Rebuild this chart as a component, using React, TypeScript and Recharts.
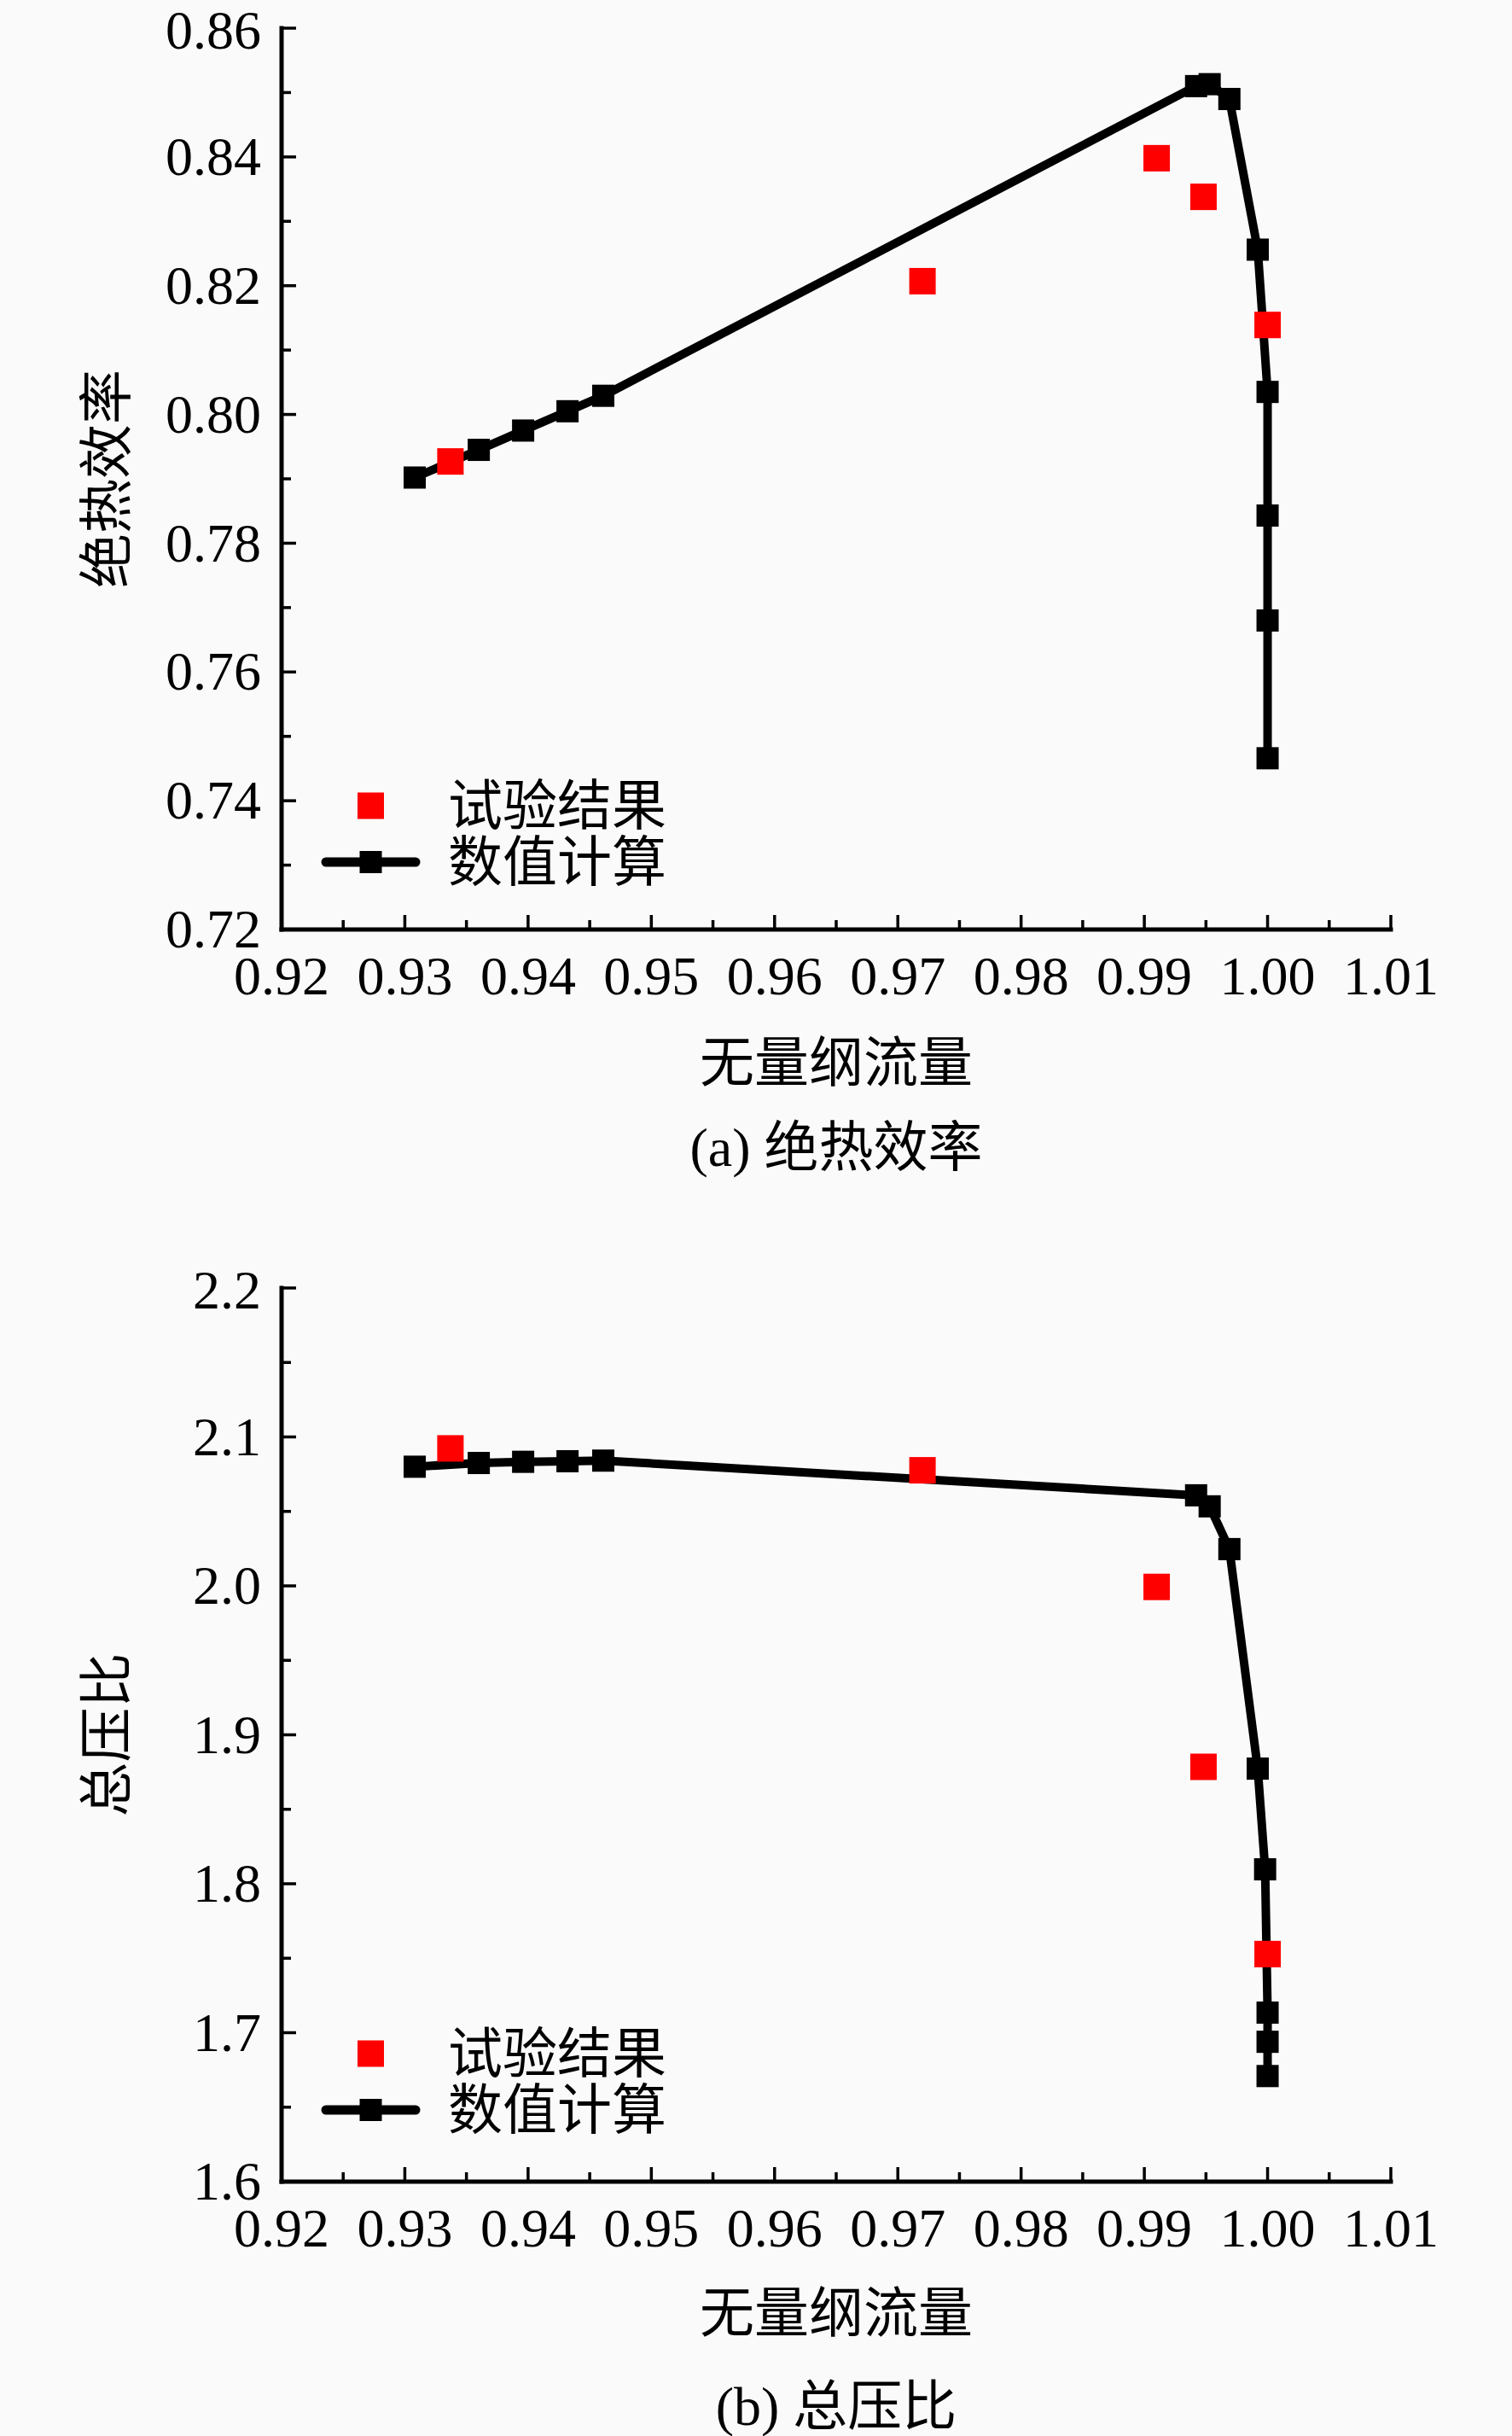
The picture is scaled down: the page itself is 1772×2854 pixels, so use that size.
import React from 'react';
import { ScatterChart, Scatter, XAxis, YAxis, Label, Legend } from 'recharts';

// 无量纲流量 / 绝热效率 / 总压比 — 数值计算 vs 试验结果
const FLOW_CALC_A = [0.9308, 0.936, 0.9396, 0.9432, 0.9461, 0.9942, 0.9953, 0.9969, 0.9992, 1.0, 1.0, 1.0, 1.0];
const EFF_CALC = [0.7902, 0.7945, 0.7975, 0.8005, 0.8029, 0.851, 0.8513, 0.849, 0.8256, 0.8035, 0.7843, 0.768, 0.7466];

const FLOW_CALC_B = [0.9308, 0.936, 0.9396, 0.9432, 0.9461, 0.9942, 0.9953, 0.9969, 0.9992, 0.9998, 1.0, 1.0, 1.0];
const PR_CALC = [2.08, 2.0825, 2.0833, 2.0837, 2.0841, 2.0608, 2.0534, 2.0247, 1.8773, 1.8097, 1.7135, 1.6939, 1.6709];

const FLOW_EXP = [0.9337, 0.972, 0.991, 0.9948, 1.0];
const EFF_EXP = [0.7927, 0.8207, 0.8398, 0.8338, 0.8139];
const PR_EXP = [2.0923, 2.0776, 1.9993, 1.8785, 1.7528];

const X_MAJOR = [0.92, 0.93, 0.94, 0.95, 0.96, 0.97, 0.98, 0.99, 1.0, 1.01];
const X_MINOR = [0.925, 0.935, 0.945, 0.955, 0.965, 0.975, 0.985, 0.995, 1.005];

const EFF_MAJOR = [0.72, 0.74, 0.76, 0.78, 0.8, 0.82, 0.84, 0.86];
const EFF_MINOR = [0.73, 0.75, 0.77, 0.79, 0.81, 0.83, 0.85];

const PR_MAJOR = [1.6, 1.7, 1.8, 1.9, 2.0, 2.1, 2.2];
const PR_MINOR = [1.65, 1.75, 1.85, 1.95, 2.05, 2.15];

const LEGEND_NAMES = ['试验结果', '数值计算'];

const FONT = "'Liberation Serif', 'Times New Roman', 'Noto Sans CJK SC', serif";
const FS = 64;
const W = 1772;
const LINE_W = 10;

const zip = (xs: number[], ys: number[]) => xs.map((x, i) => ({ x, y: ys[i] }));

const square = (size: number, fill: string) => (p: any) => (
  <rect x={p.cx - size / 2} y={p.cy - size / 2} width={size} height={size} fill={fill} />
);

interface PanelProps {
  height: number;
  top: number;
  plotH: number;
  yTitle: string;
  caption: string;
  titleOffset: number;
  captionOffset: number;
  yDomain: [number, number];
  yMajor: number[];
  yMinor: number[];
  yDigits: number;
  calc: { x: number; y: number }[];
  exp: { x: number; y: number }[];
  legendTop: number;
}

const Panel: React.FC<PanelProps> = ({
  height, top, plotH, yTitle, caption, titleOffset, captionOffset,
  yDomain, yMajor, yMinor, yDigits, calc, exp, legendTop,
}) => {
  const xTicks = [...X_MAJOR, ...X_MINOR].sort((a, b) => a - b);
  const yTicks = [...yMajor, ...yMinor].sort((a, b) => a - b);

  // ticks drawn inward, labels outside
  const xTick = (p: any) => {
    const v = p.payload.value;
    const major = X_MAJOR.includes(v);
    return (
      <g>
        <line x1={p.x} x2={p.x} y1={p.y} y2={p.y - (major ? 17 : 11)} stroke="#000" strokeWidth={3.5} />
        {major && (
          <text x={p.x} y={p.y + 55} dy="0.33em" textAnchor="middle" fontSize={FS} fill="#000">
            {v.toFixed(2)}
          </text>
        )}
      </g>
    );
  };
  const yTick = (p: any) => {
    const v = p.payload.value;
    const major = yMajor.includes(v);
    // topmost label sits at the page edge: nudge it a hair down
    const dy = v === yMajor[yMajor.length - 1] ? '0.375em' : '0.33em';
    return (
      <g>
        <line x1={p.x} x2={p.x + (major ? 17 : 11)} y1={p.y} y2={p.y} stroke="#000" strokeWidth={3.5} />
        {major && (
          <text x={p.x - 24} y={p.y} dy={dy} textAnchor="end" fontSize={FS} fill="#000">
            {v.toFixed(yDigits)}
          </text>
        )}
      </g>
    );
  };

  const legend = () => (
    <svg width={800} height={160} style={{ display: 'block', overflow: 'visible' }}>
      <rect x={434.5 - 15.5} y={44 - 15.5} width={31} height={31} fill="#ff0000" />
      <text x={525} y={44} dy="0.35em" fontSize={FS} fill="#000">{LEGEND_NAMES[0]}</text>
      <line x1={382} x2={487} y1={110} y2={110} stroke="#000" strokeWidth={11} strokeLinecap="round" />
      <rect x={434.5 - 13} y={110 - 13} width={26} height={26} fill="#000" />
      <text x={525} y={110} dy="0.35em" fontSize={FS} fill="#000">{LEGEND_NAMES[1]}</text>
    </svg>
  );

  const axisLine = { stroke: '#000', strokeWidth: 5, strokeLinecap: 'square' as const };

  return (
    <ScatterChart width={W} height={height} margin={{ top, right: 142, bottom: 0, left: 30 }}>
      <XAxis
        dataKey="x"
        type="number"
        domain={[0.92, 1.01]}
        ticks={xTicks}
        interval={0}
        allowDataOverflow
        height={height - top - plotH}
        tickSize={0}
        tickMargin={0}
        tickLine={false}
        tick={xTick}
        axisLine={axisLine}
      >
        <Label value="无量纲流量" position="insideBottom" offset={titleOffset} fontSize={FS} fill="#000" />
        <Label value={caption} position="insideBottom" offset={captionOffset} fontSize={FS} fill="#000" />
      </XAxis>
      <XAxis xAxisId="top" orientation="top" type="number" domain={[0.92, 1.01]} height={0} tick={false} tickLine={false} axisLine={axisLine} />
      <YAxis
        dataKey="y"
        type="number"
        domain={yDomain}
        ticks={yTicks}
        interval={0}
        allowDataOverflow
        width={300}
        tickSize={0}
        tickMargin={0}
        tickLine={false}
        tick={yTick}
        axisLine={axisLine}
      >
        <Label
          value={yTitle}
          angle={-90}
          position="insideLeft"
          offset={94}
          fontSize={FS}
          fill="#000"
          style={{ textAnchor: 'middle' }}
        />
      </YAxis>
      <YAxis yAxisId="right" orientation="right" type="number" domain={yDomain} width={0} tick={false} tickLine={false} axisLine={axisLine} />
      <Legend
        layout="vertical"
        verticalAlign="middle"
        align="center"
        wrapperStyle={{ left: 0, top: legendTop, width: 800, height: 160 }}
        content={legend}
      />
      <Scatter
        name={LEGEND_NAMES[1]}
        data={calc}
        fill="#000"
        line={{ stroke: '#000', strokeWidth: LINE_W, strokeLinejoin: 'round' }}
        lineType="joint"
        shape={square(26, '#000')}
        isAnimationActive={false}
      />
      <Scatter
        name={LEGEND_NAMES[0]}
        data={exp}
        fill="#ff0000"
        shape={square(31, '#ff0000')}
        isAnimationActive={false}
      />
    </ScatterChart>
  );
};

export default function App() {
  return (
    <div style={{ width: W, height: 2854, background: '#fafafa', fontFamily: FONT, position: 'relative' }}>
      <style>{'body{margin:0;background:#fafafa;}'}</style>
      <Panel
        height={1420}
        top={33}
        plotH={1056}
        yTitle="绝热效率"
        caption="(a) 绝热效率"
        titleOffset={153}
        captionOffset={54}
        yDomain={[0.72, 0.86]}
        yMajor={EFF_MAJOR}
        yMinor={EFF_MINOR}
        yDigits={2}
        calc={zip(FLOW_CALC_A, EFF_CALC)}
        exp={zip(FLOW_EXP, EFF_EXP)}
        legendTop={900}
      />
      <Panel
        height={1434}
        top={89}
        plotH={1047}
        yTitle="总压比"
        caption="(b) 总压比"
        titleOffset={122}
        captionOffset={13}
        yDomain={[1.6, 2.2]}
        yMajor={PR_MAJOR}
        yMinor={PR_MINOR}
        yDigits={1}
        calc={zip(FLOW_CALC_B, PR_CALC)}
        exp={zip(FLOW_EXP, PR_EXP)}
        legendTop={942}
      />
    </div>
  );
}
